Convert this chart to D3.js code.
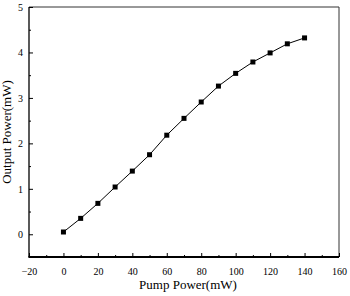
<!DOCTYPE html>
<html lang="en">
<head>
    <meta charset="UTF-8">
    <title>Output Power</title>
    <style>
        body { margin: 0; background: #fff; }
    </style>
</head>
<body>
<script src="https://d3js.org/d3.v7.min.js"></script>
<script>
    // pump power (mW) and measured output power (mW)
    const pumpPower = [0, 10, 20, 30, 40, 50, 60, 70, 80, 90, 100, 110, 120, 130, 140];
    const outputPower = [0.05, 0.35, 0.68, 1.04, 1.39, 1.75, 2.18, 2.55, 2.91, 3.26, 3.54, 3.79, 3.99, 4.19, 4.32];
    const xTicks = [-20, 0, 20, 40, 60, 80, 100, 120, 140, 160];
    const yTicks = [0, 1, 2, 3, 4, 5];

    const width = 350;
    const height = 296;
    const mLeft = 29, mRight = 339, mTop = 7, mBottom = 257;
    const serif = "'Liberation Serif', 'Times New Roman', serif";

    const svg = d3.select("body")
        .append("svg")
        .attr("width", width)
        .attr("height", height)
        .attr("font-family", serif);

    const x = d3.scaleLinear().domain([-20, 160]).range([mLeft, mRight]);
    const y = d3.scaleLinear().domain([-0.5, 5]).range([mBottom, mTop]);

    // frame (top + right)
    svg.append("path")
        .attr("d", `M${mLeft},${mTop}H${mRight}V${mBottom}`)
        .attr("fill", "none")
        .attr("stroke", "#333")
        .attr("stroke-width", 1);

    // bottom axis, ticks pointing inward
    const xMinor = d3.range(-10, 160, 20);
    svg.append("g")
        .attr("transform", `translate(0,${mBottom})`)
        .call(d3.axisTop(x).tickValues(xMinor).tickSize(2).tickFormat(""))
        .call(g => g.select(".domain").remove());
    const gx = svg.append("g")
        .attr("transform", `translate(0,${mBottom})`)
        .call(d3.axisTop(x).tickValues(xTicks).tickSize(4).tickFormat(d3.format("d")));
    gx.attr("font-family", serif).attr("font-size", 10);
    gx.select(".domain").remove();
    gx.selectAll("text")
        .attr("y", 11)
        .attr("dy", "0.71em")
        .text(d => d < 0 ? "\u2212" + Math.abs(d) : d);

    // left axis, ticks pointing inward
    const yMinor = d3.range(0.5, 5, 1);
    svg.append("g")
        .attr("transform", `translate(${mLeft},0)`)
        .call(d3.axisRight(y).tickValues(yMinor).tickSize(2).tickFormat(""))
        .call(g => g.select(".domain").remove());
    const gy = svg.append("g")
        .attr("transform", `translate(${mLeft},0)`)
        .call(d3.axisRight(y).tickValues(yTicks).tickSize(4).tickFormat(d3.format("d")));
    gy.attr("font-family", serif).attr("font-size", 10);
    gy.select(".domain").remove();
    gy.selectAll("text")
        .attr("x", -6)
        .attr("text-anchor", "end");

    // axis lines
    svg.append("line")
        .attr("x1", mLeft).attr("x2", mLeft)
        .attr("y1", mTop).attr("y2", mBottom)
        .attr("stroke", "#000").attr("stroke-width", 1.3);
    svg.append("line")
        .attr("x1", mLeft - 0.6).attr("x2", mRight)
        .attr("y1", mBottom).attr("y2", mBottom)
        .attr("stroke", "#000").attr("stroke-width", 1.8);

    // axis titles
    svg.append("text")
        .attr("x", 188)
        .attr("y", 289)
        .attr("text-anchor", "middle")
        .attr("font-size", 13)
        .text("Pump Power(mW)");
    svg.append("text")
        .attr("transform", `translate(11,${(mTop + mBottom) / 2}) rotate(-90)`)
        .attr("text-anchor", "middle")
        .attr("font-size", 13)
        .text("Output Power(mW)");

    // data line + square markers
    const data = pumpPower.map((p, i) => ({x: p, y: outputPower[i]}));
    svg.append("path")
        .datum(data)
        .attr("fill", "none")
        .attr("stroke", "#000")
        .attr("stroke-width", 1)
        .attr("d", d3.line()
            .x(d => x(d.x))
            .y(d => y(d.y)));
    svg.selectAll("rect.pt")
        .data(data)
        .join("rect")
        .attr("class", "pt")
        .attr("x", d => x(d.x) - 2.5)
        .attr("y", d => y(d.y) - 2.5)
        .attr("width", 5)
        .attr("height", 5)
        .attr("fill", "#000");
</script>
</body>
</html>
